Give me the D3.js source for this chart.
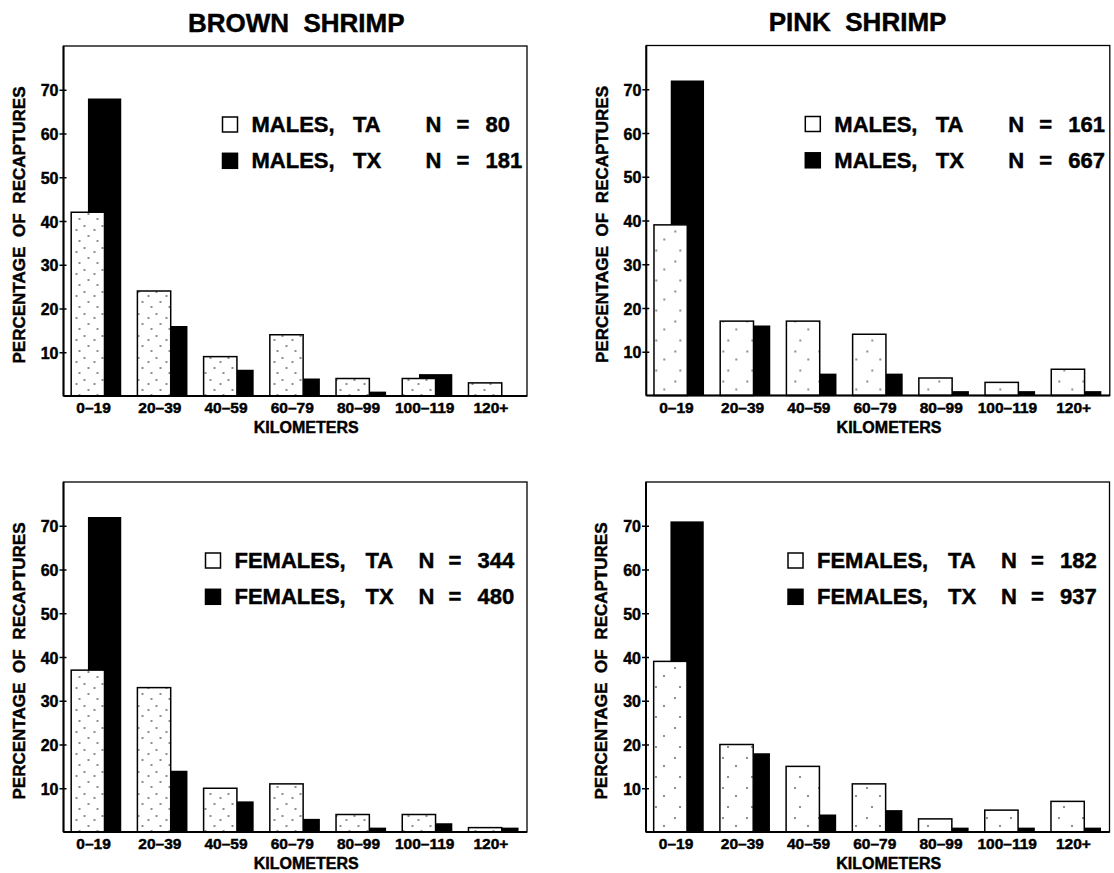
<!DOCTYPE html>
<html>
<head>
<meta charset="utf-8">
<script src="https://cdn.jsdelivr.net/npm/d3@7"></script>
<style>
  html, body { margin: 0; padding: 0; background: #fff; }
  svg text { font-family: "Liberation Sans", Arial, Helvetica, sans-serif; font-weight: bold; fill: #000; stroke: #000; stroke-width: 0.45px; }
</style>
</head>
<body>
<svg id="chart" width="1114" height="873"></svg>
<script>
// distance classes (km)
var categories = ["0–19", "20–39", "40–59", "60–79", "80–99", "100–119", "120+"];
var yTicks = [10, 20, 30, 40, 50, 60, 70];

// percentage of recaptures
var brownMalesTA   = [42, 24, 9, 14, 4, 4, 3];
var brownMalesTX   = [68, 16, 6, 4, 1, 5, 0];
var pinkMalesTA    = [39, 17, 17, 14, 4, 3, 6];
var pinkMalesTX    = [72, 16, 5, 5, 1, 1, 1];
var brownFemalesTA = [37, 33, 10, 11, 4, 4, 1];
var brownFemalesTX = [72, 14, 7, 3, 1, 2, 1];
var pinkFemalesTA  = [39, 20, 15, 11, 3, 5, 7];
var pinkFemalesTX  = [71, 18, 4, 5, 1, 1, 1];

// sample sizes
var brownMalesN   = [80, 181];
var pinkMalesN    = [161, 667];
var brownFemalesN = [344, 480];
var pinkFemalesN  = [182, 937];

var svg = d3.select("#chart");
var W = 463.5, H = 350;

// stipple patterns for the TA bars
var defs = svg.append("defs");
function stipple(id, w, h, dots) {
  var p = defs.append("pattern").attr("id", id).attr("patternUnits", "userSpaceOnUse")
    .attr("width", w).attr("height", h);
  p.append("rect").attr("width", w).attr("height", h).attr("fill", "#fff");
  dots.forEach(function (d) {
    p.append("circle").attr("cx", d[0]).attr("cy", d[1]).attr("r", 0.8).attr("fill", "#000");
  });
}
stipple("dense", 18, 22, [[3, 4], [13, 8], [7, 14], [16, 19]]);
stipple("sparse", 24, 30, [[5, 6], [18, 14], [10, 25]]);

var panels = [
  { left: 63.5,  top: 46,   ta: brownMalesTA,   tx: brownMalesTX,   n: brownMalesN,   sex: "MALES",   title: "BROWN  SHRIMP", titleDx: 1,     fill: "dense" },
  { left: 646.3, top: 45.5, ta: pinkMalesTA,    tx: pinkMalesTX,    n: pinkMalesN,    sex: "MALES",   title: "PINK  SHRIMP",  titleDx: -20.5, fill: "sparse" },
  { left: 63.5,  top: 482,  ta: brownFemalesTA, tx: brownFemalesTX, n: brownFemalesN, sex: "FEMALES", title: null, fill: "dense" },
  { left: 646,   top: 482,  ta: pinkFemalesTA,  tx: pinkFemalesTX,  n: pinkFemalesN,  sex: "FEMALES", title: null, fill: "sparse" }
];

var x = d3.scaleBand().domain(categories).range([0, W]).padding(0);
var y = d3.scaleLinear().domain([0, 80]).range([H, 0]);
var bw = x.bandwidth();

panels.forEach(function (p) {
  var g = svg.append("g").attr("transform", "translate(" + p.left + "," + p.top + ")");

  if (p.title) {
    g.append("text")
      .attr("x", W / 2 + p.titleDx).attr("y", -14.3)
      .attr("text-anchor", "middle")
      .style("font-size", "26px").style("white-space", "pre")
      .text(p.title);
  }

  // TX bars (behind)
  g.selectAll(".tx").data(p.tx).enter().append("rect")
    .attr("x", function (d, i) { return x(categories[i]) + bw * 0.369; })
    .attr("y", function (d) { return y(d); })
    .attr("width", bw * 0.503)
    .attr("height", function (d) { return H - y(d); })
    .attr("fill", "#000");

  // TA bars (front)
  g.selectAll(".ta").data(p.ta).enter().append("rect")
    .attr("x", function (d, i) { return x(categories[i]) + bw * 0.116; })
    .attr("y", function (d) { return y(d); })
    .attr("width", bw * 0.503)
    .attr("height", function (d) { return H - y(d); })
    .attr("fill", "url(#" + p.fill + ")")
    .attr("stroke", "#000").attr("stroke-width", 1.5);

  // frame
  g.append("rect").attr("width", W).attr("height", H)
    .attr("fill", "none").attr("stroke", "#000").attr("stroke-width", 1.3);
  g.append("line").attr("x1", 0).attr("x2", 0).attr("y1", 0).attr("y2", H)
    .attr("stroke", "#000").attr("stroke-width", 2);
  g.append("line").attr("x1", 0).attr("x2", W).attr("y1", H).attr("y2", H)
    .attr("stroke", "#000").attr("stroke-width", 2.2);

  // y axis
  var ya = g.append("g").call(d3.axisLeft(y).tickValues(yTicks).tickSize(4).tickPadding(1));
  ya.select(".domain").remove();
  ya.selectAll(".tick line").attr("x1", 3).attr("stroke-width", 1.5);
  ya.selectAll(".tick text").style("font-size", "16px").attr("dy", "0.38em");

  // x axis
  var xa = g.append("g").attr("transform", "translate(0," + H + ")")
    .call(d3.axisBottom(x).tickSize(0).tickPadding(6));
  xa.select(".domain").remove();
  xa.selectAll(".tick text").style("font-size", "15.5px").attr("dx", -3);

  // axis titles
  g.append("text")
    .attr("transform", "translate(-44.5," + (H / 2 + 4) + ") rotate(-90)")
    .attr("text-anchor", "middle").attr("dy", "0.35em")
    .style("font-size", "17px").style("word-spacing", "5px")
    .text("PERCENTAGE OF RECAPTURES");
  g.append("text")
    .attr("x", W / 2 + 11).attr("y", H + 37)
    .attr("text-anchor", "middle").style("font-size", "16px")
    .text("KILOMETERS");

  // legend
  var male = p.sex === "MALES";
  var L = male
    ? { box: 159, text: 188, grp: 289.5, n: 362, eq: 393, val: 422 }
    : { box: 142, text: 171, grp: 302,   n: 355, eq: 385, val: 414 };
  var rows = [{ grp: "TA", n: p.n[0] }, { grp: "TX", n: p.n[1] }];
  rows.forEach(function (r, i) {
    var base = 86 + i * 36.3;
    var lg = g.append("g").style("font-size", "22px");
    lg.append("rect").attr("x", L.box).attr("y", base - 15).attr("width", 15).attr("height", 15)
      .attr("fill", i === 0 ? "#fff" : "#000").attr("stroke", "#000").attr("stroke-width", 1.5);
    lg.append("text").attr("x", L.text).attr("y", base).text(p.sex + ",");
    lg.append("text").attr("x", L.grp).attr("y", base).text(r.grp);
    lg.append("text").attr("x", L.n).attr("y", base).text("N");
    lg.append("text").attr("x", L.eq).attr("y", base).text("=");
    lg.append("text").attr("x", L.val).attr("y", base).text(r.n);
  });
});
</script>
</body>
</html>
